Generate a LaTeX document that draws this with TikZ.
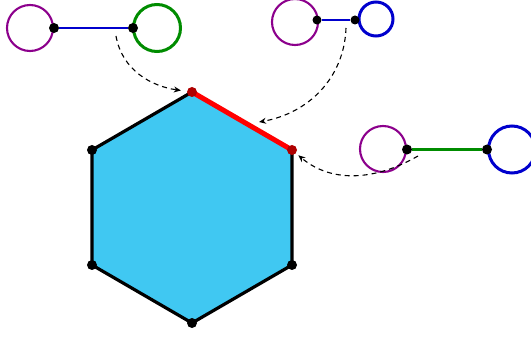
\documentclass[tikz,border=0pt]{standalone}
\usepackage{tikz}
\usetikzlibrary{arrows.meta,backgrounds}

\definecolor{hexfill}{RGB}{64,200,242}
\definecolor{lilac}{RGB}{140,0,140}
\definecolor{leaf}{RGB}{0,140,0}
\definecolor{ink}{RGB}{0,0,205}
\definecolor{blood}{RGB}{175,0,0}

\begin{document}
\begin{tikzpicture}[
  x=1pt,y=1pt,
  dot/.style={circle,fill=black,minimum size=10pt,inner sep=0pt},
  reddot/.style={dot,fill=blood},
  ring/.style={circle,draw,inner sep=0pt,line width=2.1pt},
  bar/.style={line width=2.6pt},
  hint/.style={dash pattern=on 5pt off 4pt,line width=1.1pt,
    -{Stealth[open,length=7pt,width=6pt]}}]
\useasboundingbox (0,0) rectangle (531,338);

% ---- the hexagon ----
\node[reddot] (a) at (192,246) {};
\node[reddot] (b) at (292,188) {};
\node[dot]    (c) at (292,73)  {};
\node[dot]    (d) at (192,15)  {};
\node[dot]    (e) at (92,73)   {};
\node[dot]    (f) at (92,188)  {};
\begin{scope}[on background layer]
  \filldraw[fill=hexfill,line width=3.2pt,line join=round]
    (a.center)--(b.center)--(c.center)--(d.center)--(e.center)--(f.center)--cycle;
  \draw[red,line width=5pt] (a.center)--(b.center);
\end{scope}
\coordinate (redtip) at (259,216);

% ---- dumbbell 1 ----
\node[ring,draw=lilac,minimum size=46pt] (l1) at (30,310) {};
\node[ring,draw=leaf,minimum size=47pt,line width=3pt] (r1) at (157,310) {};
\node[dot] (p1) at (54,310) {};
\node[dot] (q1) at (133,310) {};
\begin{scope}[on background layer]
  \draw[bar,ink] (p1)--(q1);
\end{scope}

% ---- dumbbell 2 ----
\node[ring,draw=lilac,minimum size=46pt] (l2) at (295,316) {};
\node[ring,draw=ink,minimum size=34pt,line width=3pt] (r2) at (376,319) {};
\node[dot,minimum size=9pt] (p2) at (317,318) {};
\node[dot,minimum size=9pt] (q2) at (355,318) {};
\begin{scope}[on background layer]
  \draw[bar,ink,line width=2pt] (p2)--(q2);
\end{scope}

% ---- dumbbell 3 ----
\node[ring,draw=lilac,minimum size=46pt] (l3) at (383,189) {};
\node[ring,draw=ink,minimum size=47pt,line width=3pt] (r3) at (512,188.5) {};
\node[dot] (p3) at (407,188.5) {};
\node[dot] (q3) at (487,188.5) {};
\begin{scope}[on background layer]
  \draw[bar,leaf] (p3)--(q3);
\end{scope}

% ---- dashed hints ----
\coordinate (s1) at (116,302);
\coordinate (s2) at (346,310);
\coordinate (s3) at (418,182);
\draw[hint,shorten >=6pt] (s1) to[out=-80,in=172] (a);
\draw[hint] (s2) to[out=-92,in=10] (redtip);
\draw[hint,shorten >=3pt] (s3) to[out=-150,in=-40] (b);
\end{tikzpicture}
\end{document}
